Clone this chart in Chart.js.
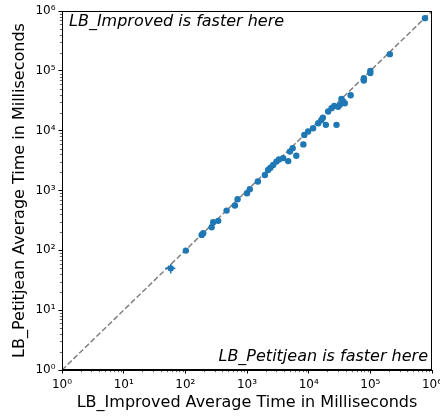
<!DOCTYPE html>
<html>
<head>
<meta charset="utf-8">
<script src="https://cdn.jsdelivr.net/npm/chart.js@4/dist/chart.umd.min.js"></script>
<style>
  html, body { margin: 0; padding: 0; background: #fff; }
  #wrap { width: 440px; height: 417px; }
</style>
</head>
<body>
<div id="wrap"><canvas id="myChart" width="440" height="417"></canvas></div>
<script>
// values (milliseconds)
const improvedMs = [58, 102, 184, 195, 267, 283, 341, 467, 637, 704, 1000, 1110, 1500, 1950, 2200, 2400,
  2660, 3000, 3300, 3860, 4660, 6300, 4960, 5500, 8200, 8500, 9800, 11800, 14300, 16000, 17000, 19000,
  20700, 23500, 26000, 28300, 30000, 32000, 34000, 36000, 38600, 48000, 78500, 78500, 100000, 100000,
  207000, 770000];
const petitjeanMs = [50, 99, 181, 193, 243, 295, 311, 461, 560, 716, 900, 1050, 1410, 1820, 2200, 2400,
  2680, 3040, 3300, 3470, 3100, 3800, 4470, 5100, 5900, 8500, 9700, 11000, 13300, 15000, 16500, 12500,
  20900, 23800, 26000, 12500, 25000, 27000, 34000, 31000, 28800, 39000, 75500, 69000, 100000, 92000,
  190000, 760000];
const improvedErr = [11, 0, 0, 0, 0, 0, 0, 0, 0, 0, 0, 0, 0, 0, 0, 0, 0, 0, 0, 0, 0, 0, 0, 0,
  0, 0, 0, 0, 0, 0, 0, 0, 0, 0, 0, 0, 0, 0, 0, 0, 0, 0, 0, 0, 0, 0, 0, 0];
const petitjeanErr = [9, 0, 0, 0, 0, 0, 0, 0, 0, 0, 0, 0, 0, 0, 0, 0, 0, 0, 0, 0, 0, 0, 0, 0,
  0, 0, 0, 0, 0, 0, 0, 0, 0, 0, 0, 0, 0, 0, 0, 0, 0, 0, 0, 0, 0, 0, 0, 0];
const axisMin = 1;
const axisMax = 1e6;
const tickLabels = ['10\u2070', '10\u00b9', '10\u00b2', '10\u00b3', '10\u2074', '10\u2075', '10\u2076'];

const blue = '#1f77b4';
const font = 'DejaVu Sans';

const points = improvedMs.map((x, i) => ({ x: x, y: petitjeanMs[i] }));

// all log ticks: 1..9 per decade
function logTicks() {
  const out = [];
  for (let e = 0; e <= 6; e++) {
    for (let m = 1; m <= 9; m++) {
      const v = m * Math.pow(10, e);
      if (v <= axisMax) out.push({ value: v });
    }
  }
  return out;
}
function isMajor(v) {
  const l = Math.log10(v);
  return Math.abs(l - Math.round(l)) < 1e-9;
}
function label(v) {
  return isMajor(v) ? tickLabels[Math.round(Math.log10(v))] : '';
}

const errorBars = {
  id: 'errorBars',
  afterDatasetsDraw(chart) {
    const ctx = chart.ctx;
    const xs = chart.scales.x, ys = chart.scales.y;
    ctx.save();
    ctx.strokeStyle = blue;
    ctx.lineWidth = 1.5;
    improvedMs.forEach((x, i) => {
      const y = petitjeanMs[i];
      if (improvedErr[i]) {
        const py = ys.getPixelForValue(y);
        ctx.beginPath();
        ctx.moveTo(xs.getPixelForValue(x - improvedErr[i]), py);
        ctx.lineTo(xs.getPixelForValue(x + improvedErr[i]), py);
        ctx.stroke();
      }
      if (petitjeanErr[i]) {
        const px = xs.getPixelForValue(x);
        ctx.beginPath();
        ctx.moveTo(px, ys.getPixelForValue(y - petitjeanErr[i]));
        ctx.lineTo(px, ys.getPixelForValue(y + petitjeanErr[i]));
        ctx.stroke();
      }
    });
    ctx.restore();
  }
};

// frame, short minor ticks and the two notes
const frameAndText = {
  id: 'frameAndText',
  afterDraw(chart) {
    const ctx = chart.ctx;
    const a = chart.chartArea;
    const xs = chart.scales.x, ys = chart.scales.y;
    ctx.save();
    ctx.strokeStyle = '#000';
    ctx.lineWidth = 0.6;
    logTicks().forEach((t) => {
      if (isMajor(t.value)) return;
      const px = Math.round(xs.getPixelForValue(t.value)) + 0.5;
      ctx.beginPath();
      ctx.moveTo(px, a.bottom);
      ctx.lineTo(px, a.bottom + 2.2);
      ctx.stroke();
      const py = Math.round(ys.getPixelForValue(t.value)) + 0.5;
      ctx.beginPath();
      ctx.moveTo(a.left, py);
      ctx.lineTo(a.left - 2.2, py);
      ctx.stroke();
    });
    ctx.lineWidth = 1;
    ctx.strokeRect(a.left + 0.5, a.top + 0.5, a.right - a.left - 1, a.bottom - a.top - 1);
    ctx.fillStyle = '#000';
    ctx.font = 'italic 16px "' + font + '"';
    ctx.textBaseline = 'alphabetic';
    ctx.textAlign = 'left';
    ctx.fillText('LB_Improved is faster here', a.left + 7, a.top + 15);
    ctx.textAlign = 'right';
    ctx.fillText('LB_Petitjean is faster here', a.right - 4, a.bottom - 9);
    ctx.restore();
  }
};

const tickColor = (c) => (c.tick && isMajor(c.tick.value) ? '#000' : 'rgba(0,0,0,0)');

const ctx = document.getElementById('myChart').getContext('2d');
new Chart(ctx, {
  data: {
    datasets: [
      {
        type: 'line',
        data: [{ x: axisMin, y: axisMin }, { x: axisMax, y: axisMax }],
        borderColor: '#808080',
        borderWidth: 1.5,
        borderDash: [5.5, 2.5],
        pointRadius: 0,
        fill: false,
        order: 2,
      },
      {
        type: 'scatter',
        data: points,
        backgroundColor: blue,
        borderColor: blue,
        borderWidth: 0,
        pointRadius: 3.2,
        order: 1,
      },
    ],
  },
  options: {
    responsive: false,
    animation: false,
    events: [],
    layout: { padding: { top: 11, right: 8, left: 0, bottom: 0 } },
    scales: {
      x: {
        type: 'logarithmic',
        min: axisMin,
        max: axisMax,
        afterBuildTicks: (s) => { s.ticks = logTicks(); },
        afterFit: (s) => {
          s.height = 47;
          s.paddingLeft = 0;
          s.paddingRight = 0;
        },
        grid: {
          drawOnChartArea: false,
          tickColor: tickColor,
          tickLength: 3.5,
          tickWidth: 1,
        },
        border: { color: '#000' },
        ticks: {
          autoSkip: false,
          maxRotation: 0,
          padding: 4,
          color: '#000',
          font: { family: font, size: 12 },
          callback: (v) => label(v),
        },
        title: {
          display: true,
          text: 'LB_Improved Average Time in Milliseconds',
          color: '#000',
          font: { family: font, size: 16 },
          padding: { top: 0, bottom: 5 },
        },
      },
      y: {
        type: 'logarithmic',
        min: axisMin,
        max: axisMax,
        afterBuildTicks: (s) => { s.ticks = logTicks(); },
        afterFit: (s) => {
          s.width = 62;
          s.paddingTop = 0;
          s.paddingBottom = 0;
        },
        grid: {
          drawOnChartArea: false,
          tickColor: tickColor,
          tickLength: 3.5,
          tickWidth: 1,
        },
        border: { color: '#000' },
        ticks: {
          autoSkip: false,
          padding: 3,
          color: '#000',
          font: { family: font, size: 12 },
          callback: (v) => label(v),
        },
        title: {
          display: true,
          text: 'LB_Petitjean Average Time in Milliseconds',
          color: '#000',
          font: { family: font, size: 16 },
          padding: { top: 10, bottom: 0 },
        },
      },
    },
    plugins: {
      legend: { display: false },
      tooltip: { enabled: false },
    },
  },
  plugins: [errorBars, frameAndText],
});
</script>
</body>
</html>
